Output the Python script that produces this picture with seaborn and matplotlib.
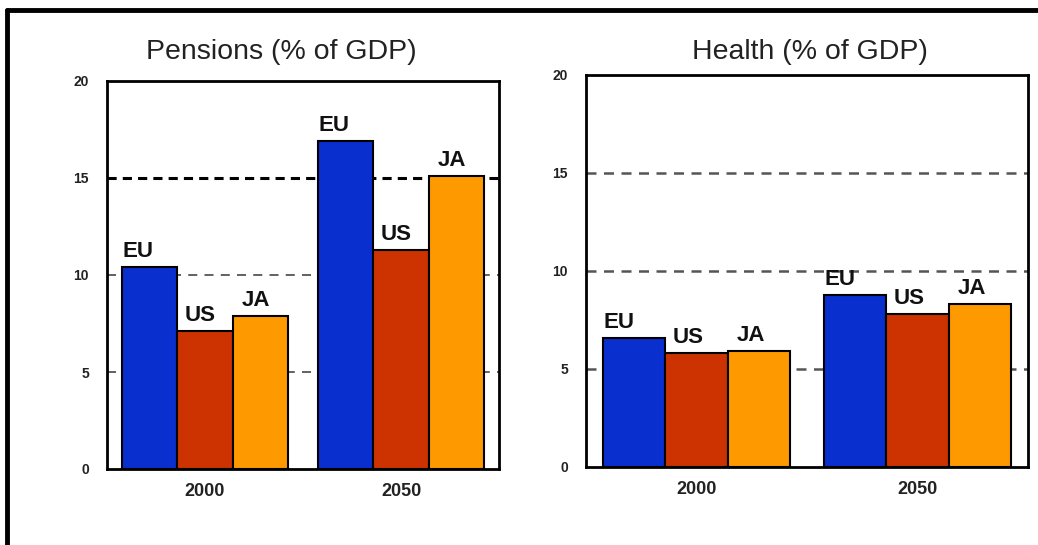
import matplotlib
matplotlib.use("Agg")
import matplotlib.pyplot as plt
from matplotlib.lines import Line2D
import seaborn as sns
import pandas as pd

years = ["2000", "2050"]
regions = ["EU", "US", "JA"]
pensions = {"EU": [10.4, 16.9], "US": [7.1, 11.3], "JA": [7.9, 15.1]}
health = {"EU": [6.6, 8.8], "US": [5.8, 7.8], "JA": [5.9, 8.3]}
titles = ["Pensions (% of GDP)", "Health (% of GDP)"]
yticks = [0, 5, 10, 15, 20]
colors = ["#0a2fcf", "#cc3300", "#ff9900"]

sns.set_style("white")
plt.rcParams["font.family"] = ["Liberation Sans", "DejaVu Sans"]


def to_df(d):
    rows = []
    for r in regions:
        for y, v in zip(years, d[r]):
            rows.append({"year": y, "region": r, "value": v})
    return pd.DataFrame(rows)


W, H = 1038, 545
fig = plt.figure(figsize=(W / 100, H / 100), dpi=100)
fig.patch.set_facecolor("white")

ax_rects = [
    [107 / W, 1 - 469 / H, (499 - 107) / W, (469 - 81) / H],
    [586 / W, 1 - 467 / H, (1028 - 586) / W, (467 - 75) / H],
]
title_x = [281.7 / W, 810 / W]
label_dx = {"EU": 1, "US": 7, "JA": 9}

for i, (data, rect) in enumerate(zip([pensions, health], ax_rects)):
    ax = fig.add_axes(rect)
    df = to_df(data)
    sns.barplot(data=df, x="year", y="value", hue="region", hue_order=regions,
                order=years, palette=colors, width=0.85, edgecolor="black",
                linewidth=1.5, legend=False, ax=ax, zorder=3, saturation=1)
    ax.set_ylim(0, 20)
    ax.set_xlim(-0.5, 1.5)
    ax.set_yticks(yticks)
    ax.set_yticklabels([str(t) for t in yticks], fontsize=10, fontweight="bold",
                       color="#222222")
    ax.set_xticklabels(years, fontsize=13, fontweight="bold", color="#222222")
    ax.set_xlabel("")
    ax.set_ylabel("")
    ax.tick_params(axis="y", length=0, pad=13)
    ax.tick_params(axis="x", length=0, pad=10)
    for s in ax.spines.values():
        s.set_visible(True)
        s.set_color("black")
        s.set_linewidth(2)
    # gridlines
    for g in [5, 10, 15]:
        if i == 0 and g == 15:
            ax.axhline(g, color="black", lw=2.2, ls=(0, (3, 2)), zorder=1)
        elif i == 0:
            ax.axhline(g, color="#555555", lw=1.3, ls=(0, (5, 4)), zorder=1)
        else:
            ax.axhline(g, color="#555555", lw=1.8, ls=(0, (4, 3)), zorder=1)
    for r, cont in zip(regions, ax.containers):
        for bar in cont:
            ax.annotate(r, (bar.get_x(), bar.get_height()),
                        xytext=(label_dx[r], 10), textcoords="offset pixels",
                        ha="left", va="baseline", fontsize=16,
                        fontweight="bold", color="#111111", zorder=4)
    fig.text(title_x[i], 1 - 59.3 / H, titles[i], ha="center", va="baseline",
             fontsize=20.5, color="#222222")

# figure border (partial frame)
fig.add_artist(Line2D([7 / W, 7 / W], [0, 1 - 10 / H], transform=fig.transFigure,
                      color="black", lw=3.5))
fig.add_artist(Line2D([7 / W, 1], [1 - 10 / H, 1 - 10 / H], transform=fig.transFigure,
                      color="black", lw=3.5))

fig.savefig("out.png", dpi=100)
